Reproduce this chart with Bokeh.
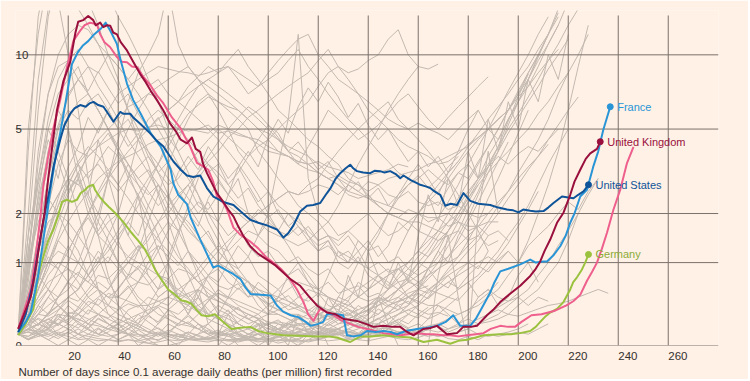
import math
from bokeh.plotting import figure
from bokeh.models import Range1d, Label, LinearAxis, FixedTicker, Title
from bokeh.embed import file_html
from bokeh.resources import INLINE

# ---------------- data ----------------
X_TICKS = [20, 40, 60, 80, 100, 120, 140, 160, 180, 200, 220, 240, 260]
Y_TICKS = [0, 1, 2, 5, 10]
Y_TICK_LABELS = ["0", "1", "2", "5", "10"]
X_TITLE = "Number of days since 0.1 average daily deaths (per million) first recorded"

france_days = [0, 3, 5, 8, 10, 11.6, 12.9, 15, 16.8, 19, 21.5, 24, 26, 28, 30, 33, 35, 37, 39.5, 41, 43.5, 46, 49, 53, 57, 61, 62, 64, 67.5, 69, 72.8, 76, 78, 80, 83.5, 86, 89, 91, 93, 97, 101, 103.5, 106, 109, 112, 115, 117, 120, 122, 123.5, 127, 130, 131.5, 134, 137, 139.5, 143, 146, 149, 151.5, 155, 159.5, 163, 167.5, 171, 174, 176.8, 180.8, 183, 186, 188.8, 190.5, 192.8, 196, 200.8, 204.8, 207, 210, 211.5, 214, 216.8, 219, 220.8, 222.5, 224.8, 227.5, 230, 232, 234, 236.8]
france_vals = [0.12, 0.22, 0.32, 0.8, 1.4, 2.0, 2.65, 3.8, 4.8, 6.5, 9.2, 10.3, 10.9, 11.3, 11.9, 12.6, 13.3, 12.3, 11.0, 9.5, 7.7, 6.6, 5.8, 4.8, 4.2, 3.3, 2.86, 2.5, 2.24, 1.9, 1.42, 1.1, 0.92, 0.95, 0.87, 0.82, 0.74, 0.62, 0.54, 0.53, 0.52, 0.40, 0.33, 0.29, 0.27, 0.22, 0.18, 0.2, 0.22, 0.30, 0.30, 0.29, 0.09, 0.08, 0.09, 0.13, 0.12, 0.13, 0.12, 0.10, 0.13, 0.15, 0.16, 0.18, 0.22, 0.29, 0.18, 0.18, 0.25, 0.40, 0.56, 0.7, 0.86, 0.9, 0.97, 1.05, 1.0, 1.02, 1.02, 1.12, 1.29, 1.5, 1.78, 2.0, 2.45, 2.65, 3.41, 4.0, 4.95, 6.2]

uk_days = [0, 3, 5, 7, 9, 10.5, 12, 13.5, 15.5, 18.1, 20.8, 22.9, 24, 26, 28, 30, 31, 32.8, 34, 35.5, 36.8, 38, 39.5, 41, 43.5, 46, 48.8, 51, 53, 55.5, 58, 60.8, 63, 65, 67.5, 69.5, 71, 72.8, 74, 75.5, 78.1, 79.5, 82, 84, 86.1, 88, 90, 92.8, 96, 99.5, 103, 106.1, 109, 112.8, 116, 119.5, 123.5, 127, 130.1, 133, 135.5, 139, 142.1, 146, 150, 152.8, 155, 158.1, 162.1, 165, 167.5, 171.5, 175.5, 178, 181, 183.5, 187.5, 190, 192.8, 197, 200.8, 204.8, 207, 208.8, 210.5, 212.8, 215.5, 218.1, 220.8, 222.5, 224.8, 227, 228.8, 231.5, 232.8]
uk_vals = [0.15, 0.35, 0.5, 0.9, 1.5, 2.0, 3.0, 4.1, 6.0, 7.9, 9.36, 12.2, 13.4, 13.6, 14.1, 13.6, 13.0, 13.3, 12.8, 13.0, 12.95, 12.2, 12.0, 11.2, 10.4, 9.4, 8.4, 7.8, 7.2, 6.6, 6.0, 5.27, 4.9, 4.5, 4.34, 4.6, 4.1, 3.98, 3.5, 3.18, 2.75, 2.55, 2.3, 2.1, 1.93, 1.7, 1.5, 1.29, 1.15, 1.05, 0.95, 0.84, 0.74, 0.65, 0.52, 0.40, 0.32, 0.30, 0.25, 0.24, 0.23, 0.2, 0.17, 0.18, 0.17, 0.17, 0.13, 0.09, 0.15, 0.16, 0.18, 0.10, 0.11, 0.17, 0.17, 0.18, 0.29, 0.35, 0.44, 0.55, 0.65, 0.79, 0.9, 1.02, 1.2, 1.42, 1.78, 2.02, 2.5, 2.9, 3.3, 3.7, 3.92, 4.1, 4.41]

us_days = [0, 3, 6, 8, 10, 12.8, 14.1, 16.8, 18.5, 20.8, 22.5, 24.8, 27, 28.5, 30.1, 32, 34.1, 36, 38.1, 40.8, 42, 44.8, 46, 48.8, 52.8, 55, 58.1, 60, 62.1, 65, 67.5, 70, 72.8, 75.5, 78.1, 82, 86.1, 89, 92.8, 96, 99.5, 103.5, 106.1, 108, 110.1, 112.8, 115.5, 118, 120.8, 123.5, 124.8, 127, 128.8, 131, 132.8, 134, 135.5, 138, 140.8, 142.5, 144.8, 146.5, 148.8, 151, 152.8, 154.1, 157, 159.5, 160.8, 163, 164.8, 166.5, 168.8, 170.8, 173, 175.5, 178.1, 180.8, 184, 188.8, 192, 195.5, 198, 200.1, 202, 204.8, 207, 210.1, 212, 214.1, 217.5, 220, 222.1, 224, 226.1, 228.1]
us_vals = [0.12, 0.3, 0.7, 1.2, 1.8, 2.75, 3.41, 4.5, 5.2, 5.8, 6.1, 6.3, 6.2, 6.4, 6.49, 6.3, 6.2, 5.8, 5.37, 5.9, 5.8, 5.8, 5.6, 5.27, 4.79, 4.5, 4.2, 3.9, 3.6, 3.3, 3.1, 3.05, 3.1, 2.7, 2.45, 2.3, 2.22, 2.05, 1.85, 1.78, 1.72, 1.63, 1.46, 1.55, 1.72, 2.05, 2.2, 2.22, 2.27, 2.55, 2.68, 3.0, 3.18, 3.35, 3.48, 3.35, 3.25, 3.2, 3.18, 3.26, 3.25, 3.2, 3.25, 3.15, 3.01, 3.1, 2.95, 2.85, 2.8, 2.75, 2.7, 2.6, 2.5, 2.2, 2.25, 2.22, 2.55, 2.33, 2.25, 2.22, 2.15, 2.1, 2.08, 2.03, 2.1, 2.07, 2.05, 2.06, 2.15, 2.27, 2.45, 2.42, 2.4, 2.5, 2.6, 2.8]

germany_days = [0, 3, 6.1, 8, 10.1, 12, 14.1, 16, 17.5, 19.5, 21.5, 23.5, 25, 26.8, 28.1, 30, 30.7, 32.5, 34.7, 36.5, 38.7, 42, 45.3, 48, 50.7, 52.5, 54.7, 57, 60, 62, 65.3, 67, 69.3, 71, 73.3, 76, 78.7, 82, 85.3, 88, 92.8, 96, 99.5, 103, 106.1, 112, 119.5, 124, 127.5, 130, 132.8, 136.8, 141, 146, 151, 156.8, 162.1, 167.5, 172.8, 176, 179.5, 183, 186.1, 192.8, 197, 200.8, 204.8, 207, 208.8, 211, 212.8, 215.5, 218.1, 220.8, 222, 223.5, 225.5, 227, 228.1]
germany_vals = [0.09, 0.2, 0.36, 0.8, 1.11, 1.4, 1.63, 1.95, 2.3, 2.36, 2.3, 2.36, 2.55, 2.65, 2.75, 2.8, 2.65, 2.45, 2.27, 2.15, 2.02, 1.8, 1.56, 1.4, 1.23, 1.08, 0.89, 0.75, 0.6, 0.55, 0.46, 0.45, 0.42, 0.36, 0.29, 0.28, 0.30, 0.22, 0.15, 0.16, 0.17, 0.13, 0.11, 0.1, 0.09, 0.085, 0.08, 0.08, 0.07, 0.05, 0.03, 0.08, 0.08, 0.09, 0.08, 0.07, 0.03, 0.05, 0.015, 0.04, 0.05, 0.07, 0.09, 0.1, 0.1, 0.11, 0.13, 0.17, 0.22, 0.28, 0.32, 0.36, 0.44, 0.6, 0.7, 0.77, 0.89, 1.02, 1.14]

pink_days = [0, 3, 5, 7, 9, 10.1, 12, 14, 16.8, 19.5, 22.1, 24.8, 26.5, 28.8, 31.5, 32.8, 34.5, 36.8, 39.5, 41.5, 43.5, 45.5, 47.5, 50, 52.8, 55.5, 58.1, 61.5, 64.8, 66.8, 68.8, 71.5, 74.1, 76, 78, 79.5, 82.1, 83.5, 86.1, 88.8, 92.8, 96, 99, 102, 105, 108.8, 111.5, 114.1, 116, 118.1, 119.5, 120.8, 123, 126.1, 129, 132.8, 136, 139.5, 143, 146, 150, 152.8, 156, 159.5, 163, 166.1, 170, 172.8, 176, 179.5, 183, 186.1, 189, 192.8, 196, 198.7, 201.3, 205.3, 209.3, 212, 214.7, 219.3, 222, 224.8, 227.5, 229.5, 231.5, 233.5, 235.5, 238.1, 240.8, 243.5, 246.1]
pink_vals = [0.15, 0.4, 0.6, 1.1, 2.0, 2.8, 3.8, 5.0, 6.6, 8.95, 11.35, 12.4, 13.0, 13.3, 13.1, 12.0, 11.2, 10.7, 9.8, 9.4, 9.36, 9.0, 8.95, 8.2, 7.6, 6.9, 6.4, 5.6, 5.06, 4.6, 4.2, 3.55, 3.41, 3.3, 2.9, 2.45, 2.27, 2.1, 1.67, 1.52, 1.38, 1.25, 1.1, 1.0, 0.9, 0.74, 0.6, 0.44, 0.3, 0.23, 0.3, 0.36, 0.33, 0.29, 0.24, 0.2, 0.17, 0.15, 0.13, 0.11, 0.1, 0.09, 0.1, 0.11, 0.1, 0.10, 0.09, 0.09, 0.08, 0.09, 0.1, 0.11, 0.15, 0.18, 0.17, 0.17, 0.22, 0.29, 0.30, 0.32, 0.34, 0.40, 0.45, 0.53, 0.72, 0.85, 1.0, 1.25, 1.56, 2.1, 2.65, 3.54, 4.19]

# other countries: one value every GRAY_STEP days from day 0
GRAY_STEP = 4
gray_series = [
    [0.1, 1.5, 6, 14, 20, 25, 27, 24, 20, 17, 14, 12, 10, 8, 6.5, 5, 4, 3.2, 2.5, 1.8, 1.4, 1.0, 0.8, 0.6, 0.5, 0.4, 0.35, 0.3, 0.3, 0.25, 0.3, 0.35, 0.4, 0.5, 0.6, 0.7, 0.8, 0.7, 0.6, 0.5, 0.45, 0.4, 0.4, 0.35, 0.3, 0.35, 0.4, 0.5, 0.6, 0.8, 1.0, 1.4, 2.0, 2.8, 4.0, 6.0, 9.0, 13],
    [0.1, 2, 8, 15, 18, 17, 15, 13, 11, 9, 7.5, 6, 5, 4, 3.2, 2.5, 1.8, 1.2, 0.8, 0.5, 0.3, 0.2, 0.1, 0.05, 0.0, 0.05, 0.1, 0.05, 0.1, 0.1, 0.2, 0.3, 0.5, 0.7, 1.0, 1.3, 1.6, 2.0, 2.4, 2.8, 3.0, 3.3, 3.0, 2.8, 3.2, 3.5, 3.0, 3.4, 3.8, 3.5, 3.9, 4.2, 4.0, 4.5, 5.0],
    [0.1, 1, 3.5, 7, 10, 12, 13, 12.5, 11, 10, 9, 8, 7, 6, 5, 4.2, 3.5, 3, 2.5, 2, 1.6, 1.2, 0.9, 0.7, 0.5, 0.35, 0.3, 0.25, 0.2, 0.2, 0.15, 0.15, 0.15, 0.1, 0.1, 0.1, 0.12, 0.1, 0.1, 0.15, 0.1, 0.15, 0.2, 0.15, 0.2, 0.25, 0.2, 0.3, 0.35, 0.3, 0.4, 0.5, 0.6, 0.8, 1.0, 1.4, 2.0],
    [0.1, 0.5, 1.5, 3, 5, 7, 8, 9, 8.5, 10, 9, 8, 9, 7.5, 8, 7, 6.5, 6, 5.5, 5, 4.5, 4, 3.5, 3, 2.5, 2, 1.6, 1.3, 1.0, 0.8, 0.6, 0.5, 0.4, 0.3, 0.25, 0.2, 0.2, 0.15, 0.12, 0.1, 0.1, 0.08, 0.1, 0.06, 0.05, 0.08, 0.05, 0.1, 0.08, 0.1, 0.12, 0.1, 0.15, 0.2],
    [0.1, 1, 4, 7, 9, 9.5, 8, 7, 6, 5, 4, 3, 2.5, 2, 1.5, 1.0, 0.7, 0.5, 0.35, 0.25, 0.2, 0.15, 0.1, 0.08, 0.06, 0.05, 0.04, 0.05, 0.04, 0.05, 0.06, 0.08, 0.06, 0.05, 0.06, 0.08, 0.1, 0.15, 0.2, 0.3, 0.4, 0.5, 0.7, 0.9, 1.1, 1.4, 1.8, 2.4, 3.0, 3.8, 4.8, 6],
    [0.1, 0.8, 2.5, 5, 7, 8, 9, 7, 6, 5, 4, 3.2, 2.4, 1.8, 1.2, 0.8, 0.5, 0.3, 0.2, 0.15, 0.1, 0.1, 0.05, 0.05, 0.03, 0.05, 0.02, 0.04, 0.05, 0.03, 0.05, 0.08, 0.1, 0.06, 0.1, 0.15, 0.2, 0.25, 0.3, 0.35, 0.4, 0.5, 0.6, 0.7, 0.8, 0.9, 1.0, 1.1, 1.0, 1.2],
    [0.1, 0.4, 1.0, 1.6, 2.2, 2.8, 3.5, 4.0, 4.5, 5.0, 5.5, 6.2, 6.5, 7.0, 6.8, 6.0, 6.5, 7.5, 8.2, 9.0, 8.5, 9.5, 10.5, 9.0, 8.0, 7.0, 6.0, 5.5, 5.0, 4.5, 4.2, 3.8, 3.5, 3.0, 2.8, 2.5, 2.2, 2.0, 1.9, 1.8, 1.6, 1.5, 1.4, 1.5],
    [0.1, 0.3, 0.7, 1.2, 1.8, 2.5, 3.2, 3.8, 4.2, 4.5, 4.8, 5.0, 4.9, 5.1, 5.2, 5.0, 5.1, 4.9, 5.0, 5.2, 4.8, 4.9, 4.7, 4.6, 4.5, 4.2, 4.0, 3.8, 3.6, 3.5, 3.2, 3.0, 2.8, 2.6, 2.5, 2.4, 2.3, 2.2, 2.1, 2.0, 2.0, 1.9, 1.9, 2.0, 1.8, 1.7, 1.7, 1.8, 1.8],
    [0.1, 0.3, 0.6, 1.0, 1.4, 1.8, 2.2, 2.6, 3.0, 3.3, 3.6, 3.8, 4.0, 4.3, 4.5, 4.6, 4.8, 5.0, 4.9, 4.8, 5.2, 5.0, 4.8, 4.6, 4.3, 4.0, 3.9, 3.8, 3.5, 3.3, 3.2, 3.0, 3.1, 2.9, 2.8, 2.6, 2.8, 2.5, 2.4, 2.6, 2.3, 2.2, 2.3, 2.1, 2.2, 2.0, 1.9, 2.0],
    [0.1, 0.2, 0.3, 0.4, 0.5, 0.6, 0.8, 1.2, 1.8, 3.0, 4.5, 6.5, 8.5, 10, 12, 18, 11, 9, 8, 7.5, 7, 6.5, 6, 5.5, 5, 4.8, 4.5, 4.0, 3.8, 3.5, 3.2, 3.0, 2.8, 2.5, 2.4, 2.5, 2.2, 2.0, 1.9, 2.1, 2.0, 1.8, 1.9, 1.7, 1.8, 1.6, 1.7, 1.5, 1.6, 1.4],
    [0.1, 0.15, 0.2, 0.3, 0.4, 0.5, 0.6, 0.8, 1.0, 1.3, 1.6, 2.0, 2.5, 3.0, 3.5, 4.2, 5.0, 5.8, 6.3, 6.8, 6.5, 6.2, 6.0, 5.5, 5.0, 4.5, 4.0, 3.8, 3.6, 3.5, 3.6, 3.4, 3.3, 3.2, 3.0, 3.1, 3.2, 3.3, 3.5, 3.4],
    [0.1, 0.12, 0.1, 0.15, 0.2, 0.25, 0.3, 0.4, 0.5, 0.6, 0.8, 1.0, 1.2, 1.5, 1.8, 2.0, 2.4, 2.8, 3.2, 3.6, 4.0, 4.6, 5.0, 5.6, 6.0, 6.5, 7.0, 7.5, 8.0, 8.5, 9.5, 10.5, 9.0, 8.5, 8.8, 9.5, 10, 11.5, 12.5, 10, 9, 8.8, 9.2],
    [0.1, 0.15, 0.2, 0.3, 0.5, 0.7, 1.0, 1.5, 2.0, 3.0, 4.0, 5.0, 6.0, 7.0, 7.5, 8.0, 8.5, 9.0, 8.0, 7.0, 6.0, 5.0, 4.0, 3.5, 3.0, 2.6, 2.2, 2.0, 1.8, 1.6, 1.4, 1.5, 1.2, 1.1, 1.0],
    [0.1, 1.0, 2.0, 4.0, 6.0, 5.0, 3.0, 2.0, 1.5, 1.8, 2.0, 1.5, 1.2, 1.4, 1.8, 2.2, 2.5, 2.8, 2.2, 2.0, 1.8, 2.5, 3.0, 2.0, 1.5, 2.0, 3.5, 5.5, 12, 3.0, 2.0, 1.8, 1.5, 1.6, 1.4, 1.2, 1.3, 1.0, 1.1, 0.9, 0.8, 0.9, 0.7, 0.8, 0.6, 0.7, 0.5, 0.6, 0.5, 0.45, 0.5, 0.4, 0.5, 0.45],
    [0.1, 0.15, 0.2, 0.25, 0.2, 0.15, 0.1, 0.08, 0.06, 0.05, 0.04, 0.05, 0.03, 0.02, 0.03, 0.05, 0.04, 0.06, 0.05, 0.07, 0.05, 0.04, 0.06, 0.08, 0.06, 0.05, 0.07, 0.1, 0.08, 0.1, 0.12, 0.09, 0.11, 0.13, 0.1, 0.15, 0.12, 0.2, 0.3, 0.4, 0.6, 0.9, 1.2, 1.6, 2.0, 2.5, 3.0, 3.8, 4.5, 5.5, 6.5, 8.0, 10, 12, 15, 18],
    [0.1, 0.15, 0.2, 0.3, 0.4, 0.5, 0.6, 0.8, 1.0, 1.5, 2.0, 3.0, 4.5, 5.5, 6.0, 5.5, 5.0, 4.5, 4.0, 3.5, 3.0, 2.5, 2.2, 2.0, 1.8, 1.6, 1.5, 1.4, 1.3, 1.4, 1.6, 1.8, 2.2, 2.8, 3.5, 4.2, 5.0, 6.0, 7.0, 8.0, 9.0],
    [0.1, 0.4, 0.8, 1.0, 0.9, 0.7, 0.5, 0.4, 0.3, 0.2, 0.15, 0.1, 0.1, 0.08, 0.1, 0.12, 0.2, 0.3, 0.5, 0.8, 1.0, 1.3, 1.6, 1.8, 2.0, 2.2, 2.4, 2.6, 2.5, 2.8, 3.0, 3.5, 4.0, 4.5, 5.0, 5.5, 6.0, 6.5, 5.5, 5.0, 4.5, 4.0, 3.5, 3.0, 2.5, 2.0, 1.6, 1.2],
    [0.1, 0.5, 1.2, 2.0, 2.5, 3.0, 2.8, 3.2, 3.5, 3.0, 2.6, 3.0, 3.4, 3.8, 3.2, 2.8, 3.0, 3.5, 4.0, 4.5, 5.0, 4.6, 4.2, 3.8, 4.5, 5.2, 4.8, 4.0, 3.5, 4.2, 5.0, 6.0, 5.5, 5.0, 4.5, 4.8, 5.2, 5.8, 6.5, 7.0, 6.2, 5.5, 5.0, 5.6, 6.2, 6.8, 7.5, 8.2],
    [0.1, 1.0, 1.8, 2.4, 2.0, 1.5, 1.2, 0.8, 0.6, 0.5, 0.6, 0.8, 1.2, 1.8, 2.5, 3.5, 4.5, 5.5, 6.5, 7.0, 6.5, 6.0, 5.5, 5.0, 4.0, 3.5, 3.0, 2.6, 2.2, 2.0, 1.8, 1.5, 1.4, 1.6, 1.8, 2.0, 1.7, 1.5, 1.6, 1.8, 2.0, 2.3, 2.6, 3.0, 3.5, 4.0, 4.5, 5.0, 5.5, 6.0],
    [0.1, 0.5, 0.8, 0.6, 0.4, 0.3, 0.2, 0.15, 0.1, 0.08, 0.1, 0.15, 0.2, 0.4, 0.6, 1.0, 1.5, 2.2, 3.0, 3.5, 3.2, 2.8, 3.2, 3.8, 4.2, 4.5, 5.0, 5.5, 6.0, 6.5, 7.5, 8.5, 9.0, 8.0, 7.0, 6.0, 5.5, 5.0, 4.5, 4.2, 4.0, 3.8, 3.5, 3.6, 3.9, 4.3, 4.6, 5.0, 5.5, 6.0, 7.0, 8.0, 9.5, 11, 13],
    [0.1, 0.6, 1.2, 1.8, 2.0, 1.8, 1.5, 1.2, 1.0, 1.2, 1.5, 1.8, 2.2, 2.8, 3.5, 4.5, 5.5, 6.5, 7.5, 8.0, 7.5, 7.0, 6.5, 6.0, 5.5, 5.0, 4.5, 4.2, 4.0, 3.8, 3.5, 3.2, 3.0, 2.8, 2.6, 2.4, 2.2, 2.0, 1.9, 1.8, 1.8, 1.7, 1.6, 1.5, 1.6, 1.4, 1.5, 1.3, 1.4],
    [0.1, 1.5, 3.0, 5.0, 4.0, 3.0, 2.0, 1.2, 0.6, 0.3, 0.2, 0.1, 0.05, 0.02, 0.0, 0.0, 0.02, 0.05, 0.1, 0.2, 0.3, 0.5, 0.8, 0.6, 0.4, 0.3, 0.5, 0.8, 1.0, 0.7, 0.5, 0.8, 1.2, 1.0, 1.4, 1.2, 1.5, 2.0, 2.5, 3.0, 3.5, 3.0, 2.5, 3.2, 4.0, 5.0, 6.0, 5.0, 4.5, 5.5, 6.5, 7.5, 9.0, 11, 13, 16],
    [0.1, 0.3, 0.5, 0.7, 0.8, 0.9, 0.8, 0.7, 0.6, 0.5, 0.5, 0.45, 0.4, 0.4, 0.45, 0.5, 0.6, 0.7, 0.8, 1.0, 1.2, 1.4, 1.6, 1.8, 2.0, 2.2, 2.4, 2.6, 2.5, 2.6, 2.8, 2.7, 2.5, 2.8, 2.6, 2.9, 2.8, 3.0, 3.1, 3.2, 3.3, 3.5, 3.6, 3.8, 4.0, 4.2, 4.6, 5.0, 5.5, 6.0, 6.8, 7.5, 8.5, 9.5, 10.5],
    [0.1, 0.3, 0.6, 1.0, 1.2, 1.1, 1.0, 0.8, 0.6, 0.5, 0.4, 0.3, 0.2, 0.15, 0.1, 0.08, 0.05, 0.05, 0.04, 0.03, 0.05, 0.04, 0.03, 0.05, 0.06, 0.05, 0.08, 0.1, 0.08, 0.12, 0.1, 0.14, 0.12, 0.15, 0.2, 0.3, 0.5, 0.8, 1.2, 1.6, 2.0, 2.4, 2.8, 3.2, 3.6, 4.2, 4.8, 5.5, 6.2, 7.0, 8.0, 9.0, 10.5, 12],
    [0.1, 0.5, 1.2, 2.0, 2.5, 3.0, 2.8, 2.5, 2.0, 1.6, 1.3, 1.1, 1.0, 0.9, 0.8, 0.7, 0.6, 0.5, 0.6, 0.5, 0.55, 0.5, 0.45, 0.4, 0.35, 0.3, 0.3, 0.25, 0.2, 0.2, 0.22, 0.18, 0.24, 0.2, 0.26, 0.3, 0.4, 0.5, 0.6, 0.8, 1.0, 1.2, 1.5, 1.8, 2.2, 2.6, 3.0, 3.5, 4.2, 5.0, 5.8, 6.8, 8.0, 9.5, 11, 13, 15],
    [0.1, 0.15, 0.2, 0.25, 0.3, 0.28, 0.25, 0.2, 0.18, 0.15, 0.12, 0.1, 0.08, 0.1, 0.12, 0.1, 0.08, 0.06, 0.05, 0.06, 0.08, 0.1, 0.12, 0.15, 0.18, 0.2, 0.22, 0.2, 0.18, 0.2, 0.25, 0.3, 0.28, 0.25, 0.3, 0.35, 0.4, 0.45, 0.5, 0.6, 0.7, 0.8, 0.9, 1.0, 1.1, 1.3, 1.5, 1.8, 2.2, 2.6, 3.2, 3.8, 4.5, 5.5, 7.0, 8.5],
    [0.1, 0.2, 0.35, 0.5, 0.4, 0.3, 0.35, 0.5, 0.6, 0.4, 0.3, 0.25, 0.2, 0.3, 0.4, 0.35, 0.25, 0.2, 0.15, 0.2, 0.3, 0.25, 0.2, 0.15, 0.1, 0.12, 0.15, 0.2, 0.25, 0.3, 0.4, 0.35, 0.3, 0.25, 0.2, 0.15, 0.2, 0.25, 0.3, 0.35, 0.3, 0.25, 0.3, 0.4, 0.5],
    [0.1, 0.08, 0.12, 0.15, 0.1, 0.08, 0.05, 0.06, 0.04, 0.05, 0.03, 0.05, 0.04, 0.06, 0.05, 0.08, 0.1, 0.08, 0.06, 0.05, 0.07, 0.05, 0.04, 0.05, 0.06, 0.08, 0.1, 0.12, 0.15, 0.12, 0.1, 0.08, 0.1, 0.12, 0.15, 0.2, 0.25, 0.3, 0.35, 0.4, 0.5, 0.6, 0.7, 0.85, 1.0, 1.2, 1.4, 1.7, 2.0, 2.4, 2.8, 3.3, 3.8, 4.5, 5.2, 6.0, 6.8],
    [0.1, 0.3, 0.5, 0.8, 1.0, 0.9, 0.7, 0.5, 0.4, 0.3, 0.25, 0.2, 0.15, 0.12, 0.1, 0.1, 0.08, 0.06, 0.05, 0.05, 0.04, 0.05, 0.06, 0.05, 0.04, 0.03, 0.05, 0.04, 0.03, 0.04, 0.05, 0.04, 0.05, 0.06, 0.05, 0.04, 0.06, 0.08, 0.06, 0.05, 0.07, 0.1, 0.08, 0.1, 0.12, 0.15, 0.2, 0.25, 0.3, 0.4, 0.5, 0.6, 0.8, 1.0, 1.3, 1.6, 2.0, 2.5, 3.0],
    [0.1, 0.14, 0.13, 0.22, 0.2, 0.32, 0.3, 0.45, 0.4, 0.55, 0.5, 0.62, 0.7, 0.66, 0.8, 0.75, 0.9, 0.85, 0.7, 0.78, 0.65, 0.6, 0.68, 0.5, 0.55, 0.42, 0.45, 0.35, 0.38, 0.3, 0.25, 0.28, 0.2, 0.22, 0.18, 0.2, 0.15, 0.16, 0.12, 0.14],
    [0.1, 0.05, 0.08, 0.12, 0.2, 0.15, 0.1, 0.2, 0.3, 0.25, 0.2, 0.35, 0.4, 0.3, 0.5, 0.6, 0.5, 0.7, 0.9, 1.1, 1.3, 1.2, 1.4, 1.6, 1.5, 1.3, 1.2, 1.0, 1.1, 0.9, 0.8, 0.9, 0.7, 0.6, 0.65, 0.5, 0.55, 0.45, 0.4, 0.45, 0.35, 0.3, 0.32, 0.28],
    [0.1, 0.2, 0.1, 0.05, 0.0, 0.05, 0.1, 0.05, 0.0, 0.05, 0.1, 0.15, 0.1, 0.05, 0.1, 0.2, 0.15, 0.1, 0.05, 0.08, 0.12, 0.1, 0.05, 0.1, 0.15, 0.2, 0.15, 0.1, 0.12, 0.15, 0.1, 0.08, 0.1, 0.12, 0.1, 0.08, 0.1, 0.15, 0.2, 0.15, 0.12, 0.1, 0.08, 0.1, 0.12, 0.15, 0.1, 0.08, 0.1, 0.12, 0.15, 0.2],
    [0.1, 0.4, 0.8, 1.4, 2.0, 2.6, 3.0, 2.4, 1.8, 1.4, 1.0, 0.7, 0.5, 0.4, 0.3, 0.25, 0.2, 0.18, 0.15, 0.1, 0.12, 0.1, 0.08, 0.06, 0.05, 0.06, 0.08, 0.1, 0.12, 0.1, 0.08, 0.1, 0.15, 0.2, 0.3, 0.4, 0.5, 0.6, 0.8, 1.0, 1.2, 1.5, 1.9, 2.3, 2.8, 3.5, 4.2, 5.0, 6.0, 7.2, 8.5, 10, 12, 14],
    [0.1, 0.2, 0.3, 0.28, 0.35, 0.5, 0.45, 0.6, 0.8, 0.75, 0.9, 1.1, 1.3, 1.2, 1.5, 1.8, 1.6, 2.0, 2.3, 2.1, 2.5, 2.2, 2.0, 1.8, 2.1, 1.9, 1.6, 1.5, 1.7, 1.4, 1.2, 1.3, 1.1, 1.0, 1.2, 0.9, 0.8, 0.9, 0.7, 0.75, 0.6, 0.65],
    [0.1, 0.15, 0.12, 0.18, 0.25, 0.2, 0.3, 0.25, 0.2, 0.15, 0.2, 0.25, 0.3, 0.35, 0.4, 0.5, 0.45, 0.55, 0.6, 0.5, 0.45, 0.4, 0.35, 0.3, 0.25, 0.3, 0.35, 0.4, 0.5, 0.6, 0.55, 0.5, 0.45, 0.4, 0.35],
    [0.1, 0.3, 0.2, 0.15, 0.25, 0.4, 0.3, 0.2, 0.1, 0.15, 0.2, 0.1, 0.05, 0.1, 0.2, 0.3, 0.25, 0.2, 0.3, 0.45, 0.6, 0.5, 0.4, 0.35, 0.3, 0.4, 0.5, 0.6, 0.7, 0.65, 0.6, 0.5, 0.45, 0.4, 0.5, 0.6, 0.7, 0.8, 0.9, 0.8, 0.7, 0.6, 0.55, 0.5, 0.6, 0.7, 0.8, 1.0, 1.2, 1.5, 1.8, 2.2, 2.8, 3.5, 4.2, 5.0],
    [0.1, 0.6, 1.5, 3.0, 4.5, 5.5, 6.5, 7.0, 6.0, 5.0, 4.2, 3.5, 2.8, 2.2, 1.8, 1.4, 1.1, 0.9, 0.7, 0.55, 0.45, 0.4, 0.3, 0.25, 0.2, 0.2, 0.15, 0.12, 0.1, 0.1, 0.12, 0.15, 0.2, 0.25, 0.3, 0.35, 0.4, 0.5, 0.6, 0.75, 0.9, 1.1, 1.3, 1.6, 2.0, 2.4, 2.9, 3.4, 4.0, 4.8, 5.6, 6.5, 7.5, 8.8, 10, 11.5],
    [0.1, 5, 12, 20, 16, 10, 6, 3, 1.5, 0.8, 0.4, 0.2, 0.1, 0.05, 0.0, 0.0, 0.0, 0.0, 0.0, 0.0, 0.0, 0.1, 0.0, 0.0, 0.0, 0.0, 0.0, 0.0, 0.0, 0.1, 0.2, 0.0, 0.0, 0.0, 0.0, 0.0, 0.5, 0.2, 0.0, 0.0, 0.0, 0.0, 0.8, 1.5, 0.5, 0.0, 2.0, 4.0, 2.0],
    [0.1, 4, 14, 22, 26, 24, 20, 16, 13, 10, 8, 6, 4.5, 3.5, 2.5, 1.8, 1.2, 0.8, 0.5, 0.35, 0.25, 0.2, 0.15, 0.1, 0.1, 0.1, 0.12, 0.1, 0.12, 0.15, 0.2, 0.25, 0.3, 0.4, 0.5, 0.6, 0.7, 0.8, 0.9, 1.0, 1.2, 1.4, 1.6, 1.8, 2.0, 2.4, 2.8, 3.2, 3.6, 4.0, 4.5, 5.0, 5.8, 6.5, 7.5, 8.5, 10, 12],
    [0.1, 0.8, 2.0, 3.5, 5.0, 6.0, 5.5, 6.5, 7.0, 6.0, 5.0, 5.5, 4.5, 4.0, 3.5, 3.0, 2.6, 2.2, 1.8, 1.5, 1.2, 1.0, 0.8, 0.7, 0.6, 0.5, 0.45, 0.4, 0.35, 0.3, 0.3, 0.28, 0.25, 0.3, 0.35, 0.4, 0.45, 0.5, 0.6, 0.7, 0.8, 0.9, 1.0, 1.1, 1.3, 1.5, 1.7, 2.0, 2.3, 2.6, 3.0, 3.4, 3.8, 4.3],
    [0.1, 0.5, 1.2, 2.2, 3.5, 4.5, 4.0, 3.8, 4.2, 4.8, 4.0, 3.5, 3.0, 3.3, 2.8, 2.4, 2.0, 1.8, 1.5, 1.2, 1.0, 0.9, 0.8, 0.7, 0.6, 0.55, 0.5, 0.45, 0.4, 0.35, 0.3, 0.35, 0.3, 0.25, 0.3, 0.35, 0.3, 0.4, 0.45, 0.5, 0.6, 0.55, 0.65, 0.8, 0.9, 1.0, 1.2, 1.5],
    [0.1, 0.3, 0.7, 1.3, 2.0, 2.8, 3.5, 3.0, 3.6, 4.2, 3.8, 3.2, 2.8, 2.5, 2.8, 2.2, 1.9, 1.6, 1.4, 1.2, 1.0, 0.85, 0.7, 0.6, 0.5, 0.42, 0.35, 0.3, 0.25, 0.2, 0.18, 0.15, 0.14, 0.12, 0.1, 0.12, 0.1, 0.08, 0.1, 0.12, 0.15, 0.18, 0.2, 0.25, 0.3, 0.35, 0.45, 0.55, 0.7],
    [0.1, 1.2, 3.0, 5.5, 8.0, 9.5, 10.5, 9.0, 7.5, 6.5, 5.5, 4.5, 3.8, 3.2, 2.6, 2.0, 1.6, 1.2, 0.9, 0.7, 0.5, 0.4, 0.3, 0.25, 0.2, 0.15, 0.12, 0.1, 0.1, 0.08, 0.1, 0.12, 0.15, 0.2, 0.25, 0.35, 0.45, 0.6, 0.75, 0.9, 1.1, 1.3, 1.6, 2.0, 2.4, 2.9, 3.5, 4.2, 5.0, 6.0, 7.0, 8.5, 10],
    [0.1, 0.3, 0.6, 1.0, 1.5, 2.2, 3.0, 4.0, 5.0, 6.0, 7.0, 7.5, 8.0, 8.5, 9.0, 8.8, 8.6, 8.5, 8.3, 8.5, 8.8, 9.0, 8.5, 8.0, 7.5, 8.0, 8.5, 9.5, 10.5, 9.0, 8.0, 7.0, 6.2, 5.5, 5.0, 4.5, 4.0, 3.6, 3.2, 3.0],
    [0.1, 0.2, 0.4, 0.6, 0.9, 1.2, 1.6, 2.0, 2.5, 3.0, 3.5, 4.0, 4.5, 5.0, 5.5, 6.0, 6.5, 7.0, 7.5, 8.0, 8.5, 9.0, 8.0, 7.0, 7.5, 8.5, 9.5, 10.5, 11.5, 12, 10, 9, 8, 7.5, 7, 6.5, 6.0, 5.5, 5.2, 5.0, 5.3, 5.0, 4.8, 4.5, 5.0, 5.5, 6.0],
    [0.1, 0.2, 0.25, 0.15, 0.3, 0.2, 0.1, 0.15, 0.25, 0.2, 0.12, 0.18, 0.3, 0.22, 0.15, 0.1, 0.2, 0.28, 0.2, 0.12, 0.1, 0.16, 0.22, 0.3, 0.25, 0.18, 0.12, 0.2, 0.26, 0.2, 0.15, 0.22, 0.3, 0.35, 0.28, 0.2, 0.25, 0.32, 0.4, 0.3],
    [0.1, 0.05, 0.1, 0.2, 0.1, 0.05, 0.0, 0.05, 0.15, 0.1, 0.05, 0.1, 0.0, 0.05, 0.1, 0.05, 0.0, 0.1, 0.2, 0.1, 0.05, 0.0, 0.05, 0.1, 0.05, 0.1, 0.15, 0.05, 0.0, 0.05, 0.1, 0.2, 0.15, 0.1, 0.05, 0.1, 0.2, 0.3, 0.2, 0.1, 0.15, 0.25, 0.4, 0.3, 0.2, 0.3, 0.5, 0.6, 0.4, 0.5, 0.8, 1.0, 0.7],
    [0.1, 0.3, 0.6, 0.9, 1.4, 1.2, 1.6, 1.9, 1.5, 1.3, 1.0, 0.8, 0.9, 0.7, 0.5, 0.6, 0.45, 0.35, 0.4, 0.3, 0.25, 0.3, 0.2, 0.15, 0.2, 0.12, 0.1, 0.15, 0.1, 0.08, 0.12, 0.1, 0.15, 0.2, 0.18, 0.25, 0.3, 0.4, 0.35, 0.5, 0.6, 0.8, 1.0, 1.3, 1.6, 2.1, 2.6, 3.4, 4.2, 5.4, 6.8, 8.4],
    [0.1, 0.15, 0.3, 0.5, 0.7, 1.0, 1.5, 2.0, 2.6, 3.2, 2.8, 3.5, 3.0, 2.6, 2.2, 2.5, 2.0, 1.7, 1.4, 1.6, 1.2, 1.0, 0.9, 1.1, 0.8, 0.7, 0.6, 0.75, 0.5, 0.45, 0.55, 0.4, 0.35, 0.45, 0.3, 0.4, 0.5, 0.45, 0.6, 0.7, 0.65, 0.9, 1.1, 1.4, 1.8, 2.3],
    [0.1, 0.12, 0.08, 0.1, 0.14, 0.2, 0.16, 0.24, 0.3, 0.26, 0.35, 0.42, 0.38, 0.5, 0.45, 0.4, 0.55, 0.48, 0.36, 0.3, 0.4, 0.33, 0.26, 0.2, 0.24, 0.18, 0.14, 0.2, 0.16, 0.12, 0.1, 0.14, 0.1],
    [0.1, 0.7, 2.2, 4.0, 3.0, 5.0, 3.5, 2.5, 4.5, 3.0, 2.0, 1.5, 2.5, 1.2, 0.8, 1.0, 0.5, 0.3, 0.6, 0.2, 0.1, 0.3, 0.1, 0.05, 0.2, 0.0, 0.1, 0.0, 0.3, 0.1, 0.2, 0.5, 0.3, 0.8, 0.5, 1.2, 0.8, 0.6, 1.0, 0.7, 1.5, 2.5, 1.8, 3.0, 2.2, 4.0, 3.0, 5.5, 4.0, 6.5, 5.0, 8.0, 6.5, 10, 8, 12],
    [0.1, 0.2, 0.4, 0.3, 0.5, 0.7, 0.6, 0.9, 1.2, 1.0, 1.4, 1.8, 1.5, 2.2, 2.8, 2.4, 3.2, 3.8, 3.3, 4.2, 3.6, 3.0, 3.4, 2.8, 2.3, 2.6, 2.0, 1.7, 1.9, 1.5, 1.3, 1.4, 1.1, 1.2, 1.0, 0.9, 1.0, 0.85, 0.9, 1.0, 1.2, 1.1, 1.4, 1.6, 1.9, 2.3, 2.8],
    [0.1, 0.05, 0.1, 0.08, 0.12, 0.1, 0.15, 0.1, 0.08, 0.12, 0.2, 0.15, 0.25, 0.3, 0.2, 0.35, 0.45, 0.4, 0.6, 0.8, 0.7, 1.0, 1.3, 1.1, 1.5, 1.8, 1.6, 2.0, 1.7, 1.5, 1.2, 1.4, 1.0, 0.9, 1.1, 0.8, 0.7, 0.6, 0.7, 0.5, 0.55],
    [0.1, 0.4, 0.9, 1.5, 2.2, 3.0, 3.6, 4.2, 3.8, 3.3, 2.8, 2.4, 2.0, 1.7, 1.4, 1.2, 1.0, 0.85, 0.7, 0.6, 0.5, 0.42, 0.36, 0.3, 0.26, 0.22, 0.2, 0.18, 0.15, 0.13, 0.12, 0.1, 0.1, 0.08, 0.09, 0.1, 0.08, 0.1, 0.12, 0.1, 0.12, 0.14, 0.12, 0.15, 0.18, 0.16, 0.2, 0.22, 0.25, 0.3, 0.28, 0.32, 0.36, 0.4, 0.42, 0.45, 0.5, 0.55, 0.6, 0.55],
    [0.1, 0.25, 0.18, 0.32, 0.4, 0.28, 0.22, 0.35, 0.3, 0.2, 0.15, 0.22, 0.18, 0.12, 0.16, 0.1, 0.08, 0.12, 0.09, 0.06, 0.1, 0.08, 0.05, 0.07, 0.1, 0.06, 0.04, 0.08, 0.05, 0.1, 0.07, 0.12, 0.09, 0.15, 0.11, 0.18, 0.14, 0.2, 0.24, 0.3, 0.26, 0.35, 0.42, 0.5, 0.46, 0.6, 0.75, 0.9, 1.1, 1.35, 1.7, 2.1, 2.6],
    [0.1, 0.35, 0.7, 1.1, 0.9, 1.3, 1.0, 0.8, 1.1, 0.7, 0.5, 0.65, 0.45, 0.3, 0.38, 0.25, 0.18, 0.22, 0.15, 0.1, 0.14, 0.08, 0.12, 0.06, 0.1, 0.05, 0.08, 0.04, 0.06, 0.1, 0.05, 0.08, 0.12, 0.07, 0.1, 0.15, 0.1, 0.18, 0.25, 0.2, 0.3, 0.38],
    [0.1, 0.18, 0.26, 0.2, 0.34, 0.46, 0.38, 0.55, 0.7, 0.6, 0.85, 1.0, 0.9, 1.15, 1.3, 1.1, 0.95, 1.2, 1.0, 0.8, 0.9, 0.7, 0.6, 0.72, 0.55, 0.48, 0.6, 0.45, 0.38, 0.5, 0.4, 0.33, 0.42, 0.36, 0.3],
    [0.1, 0.08, 0.15, 0.1, 0.06, 0.12, 0.2, 0.14, 0.1, 0.18, 0.25, 0.2, 0.15, 0.28, 0.22, 0.35, 0.3, 0.4, 0.32, 0.45, 0.55, 0.48, 0.62, 0.5, 0.7, 0.58, 0.45, 0.52, 0.4, 0.34, 0.42, 0.3, 0.26, 0.32, 0.24, 0.2, 0.26, 0.18, 0.22, 0.16, 0.2, 0.15, 0.18, 0.12, 0.16, 0.2, 0.25, 0.3, 0.38, 0.45, 0.55],
    [0.1, 1.2, 2.8, 4.5, 3.6, 2.6, 3.2, 2.2, 1.6, 2.0, 1.4, 1.0, 1.3, 0.8, 0.6, 0.75, 0.5, 0.4, 0.5, 0.3, 0.25, 0.35, 0.2, 0.15, 0.25, 0.1, 0.2, 0.15, 0.3, 0.2, 0.4, 0.3, 0.5, 0.45, 0.7, 0.6, 0.8, 0.65, 0.9, 0.75, 1.0, 0.9, 1.2, 1.0, 1.5, 1.9, 2.5, 3.2, 4.0, 5.2, 6.5, 8.0, 9.8, 12, 14.5],
    [0.1, 0.5, 0.9, 1.6, 2.4, 3.4, 4.2, 5.6, 4.8, 6.0, 5.0, 4.2, 4.8, 3.8, 3.2, 3.6, 2.8, 2.4, 2.0, 2.3, 1.8, 1.5, 1.7, 1.3, 1.1, 1.2, 0.95, 0.8, 0.9, 0.7, 0.6, 0.7, 0.55, 0.6, 0.5, 0.45, 0.5, 0.4, 0.45, 0.55, 0.6, 0.75, 0.9, 1.1, 1.4, 1.8, 2.3, 2.9, 3.6, 4.4],
    [0.1, 0.15, 0.1, 0.05, 0.1, 0.15, 0.25, 0.2, 0.3, 0.4, 0.35, 0.5, 0.7, 0.9, 1.2, 1.6, 2.0, 2.6, 3.2, 3.8, 4.4, 5.0, 5.6, 6.2, 5.8, 5.2, 4.6, 4.0, 4.4, 3.8, 3.3, 3.6, 3.0, 2.6, 2.9, 2.4, 2.7, 2.2, 2.5, 2.8, 3.1, 2.7, 3.0, 3.4, 3.8],
    [0.1, 0.12, 0.2, 0.16, 0.28, 0.22, 0.38, 0.3, 0.48, 0.4, 0.62, 0.8, 0.7, 1.0, 1.3, 1.1, 1.6, 2.0, 1.7, 2.4, 2.9, 2.5, 3.4, 4.0, 3.4, 4.6, 5.5, 4.8, 6.2, 7.4, 6.5, 7.8, 6.8, 5.6, 6.4, 5.2, 4.5, 5.0, 4.2, 3.6, 4.0, 3.4, 3.8, 3.2, 3.6],
    [0.1, 0.06, 0.1, 0.14, 0.08, 0.12, 0.06, 0.1, 0.16, 0.1, 0.05, 0.09, 0.14, 0.08, 0.04, 0.1, 0.06, 0.12, 0.08, 0.05, 0.1, 0.14, 0.09, 0.06, 0.11, 0.16, 0.12, 0.08, 0.13, 0.18, 0.12, 0.2, 0.26, 0.18, 0.3, 0.24, 0.36, 0.3, 0.44, 0.5, 0.42, 0.58, 0.7, 0.62, 0.85, 1.0, 0.9, 1.2],
    [0.1, 0.3, 0.45, 0.6, 0.5, 0.72, 0.85, 0.7, 0.95, 1.1, 0.9, 0.75, 0.95, 0.8, 0.6, 0.7, 0.5, 0.55, 0.4, 0.48, 0.35, 0.3, 0.38, 0.25, 0.3, 0.2, 0.24, 0.16, 0.2, 0.14, 0.18, 0.12, 0.15, 0.2, 0.16, 0.24],
    [0.1, 0.9, 2.4, 3.8, 5.2, 6.8, 8.0, 7.2, 8.6, 7.4, 6.4, 7.0, 5.8, 5.0, 5.6, 4.6, 4.0, 4.4, 3.6, 3.2, 3.5, 2.8, 2.4, 2.7, 2.2, 1.9, 2.1, 1.7, 1.5, 1.7, 1.4, 1.5, 1.3, 1.5, 1.2, 1.4, 1.1, 1.3, 1.8, 1.6, 2.0, 2.4, 2.2, 2.7, 3.2, 3.0, 3.6, 4.2, 5.0, 6.0, 7.2, 8.5, 10, 12, 14],
    [0.1, 0.2, 0.14, 0.25, 0.18, 0.3, 0.22, 0.16, 0.26, 0.2, 0.14, 0.1, 0.18, 0.12, 0.08, 0.14, 0.1, 0.06, 0.1, 0.14, 0.08, 0.12, 0.16, 0.1, 0.14, 0.2, 0.15, 0.22, 0.28, 0.2, 0.3, 0.24, 0.34, 0.28, 0.4, 0.32, 0.45, 0.38, 0.5, 0.42, 0.55, 0.48, 0.6, 0.7, 0.62, 0.8, 0.95, 0.85, 1.05, 1.2, 1.0, 1.3, 1.5, 1.7, 2.0, 2.3, 2.1, 2.6, 3.0],
]

highlights = [
    ("Germany", germany_days, germany_vals, "#9bc23f", "#8aab37", True),
    ("", pink_days, pink_vals, "#ee5f8d", "#ee5f8d", False),
    ("France", france_days, france_vals, "#2a95d6", "#2a95d6", True),
    ("United States", us_days, us_vals, "#0f5499", "#0f5499", True),
    ("United Kingdom", uk_days, uk_vals, "#990f3d", "#990f3d", True),
]

# ---------------- scale: log10(v + c) ----------------
OFFSET = 1.04
def f(v):
    return math.log10(v + OFFSET)

BG = "#fff1e5"
GRID = "#7b716b"
TEXT = "#33302e"
FONT = "Liberation Sans"
TICK_PX = 11.5
PX_PER_DAY = 2.5
X0, X1 = -1.08, 280.1
Y0 = f(0)
Y1 = Y0 + 337 / 285.0
GRID_TOP = Y0 + 332 / 285.0

W, H = 748, 379
p = figure(width=W, height=H, x_range=Range1d(X0, X1), y_range=Range1d(Y0, Y1),
           output_backend="svg", toolbar_location=None,
           x_axis_location=None, y_axis_location=None,
           min_border_left=15, min_border_right=W - 718, min_border_top=10,
           min_border_bottom=H - 347,
           background_fill_color=BG, border_fill_color=BG, outline_line_color=None)
p.grid.visible = False

# x labels start at their gridline: shift each (centred) label by half its width
label_pos = [round(t + len(str(t)) * 0.556 * TICK_PX / 2 / PX_PER_DAY, 2) for t in X_TICKS]
xaxis = LinearAxis(ticker=FixedTicker(ticks=label_pos), axis_line_color=None,
                   major_tick_line_color=None, minor_tick_line_color=None,
                   major_label_overrides={pos: str(t) for pos, t in zip(label_pos, X_TICKS)},
                   major_label_standoff=0,
                   major_label_text_font=FONT, major_label_text_font_size=f"{TICK_PX}px",
                   major_label_text_color=TEXT)
p.add_layout(xaxis, "below")
p.add_layout(Title(text=X_TITLE, align="left", offset=3, standoff=3,
                   text_font=FONT, text_font_size="11.5px", text_font_style="normal",
                   text_color=TEXT), "below")

gxs = [[i * GRAY_STEP for i in range(len(s))] for s in gray_series]
gys = [[f(v) for v in s] for s in gray_series]
p.multi_line(gxs, gys, line_color="#c3b9b0", line_width=1, line_join="round")

# grid
p.segment(x0=X_TICKS, y0=[Y0] * len(X_TICKS), x1=X_TICKS, y1=[GRID_TOP] * len(X_TICKS),
          line_color=GRID, line_width=1)
p.segment(x0=[X0] * len(Y_TICKS), y0=[f(t) for t in Y_TICKS], x1=[X1] * len(Y_TICKS),
          y1=[f(t) for t in Y_TICKS], line_color=GRID, line_width=1)

for name, days, vals, col, tcol, dot in highlights:
    p.line(days, [f(v) for v in vals], line_color=col, line_width=2, line_join="round")
for name, days, vals, col, tcol, dot in highlights:
    if dot:
        p.scatter([days[-1]], [f(vals[-1])], size=6, fill_color=col, line_color=col)
        p.add_layout(Label(x=days[-1], y=f(vals[-1]), text=name, x_offset=7,
                           text_baseline="middle", text_align="left",
                           text_font=FONT, text_font_size="11px", text_color=tcol))

for t, lab in zip(Y_TICKS, Y_TICK_LABELS):
    p.add_layout(Label(x=X0, y=f(t), text=lab, text_baseline="middle", text_align="left",
                       text_font=FONT, text_font_size=f"{TICK_PX}px", text_color=TEXT))

open("out.html", "w").write(file_html(p, INLINE))
